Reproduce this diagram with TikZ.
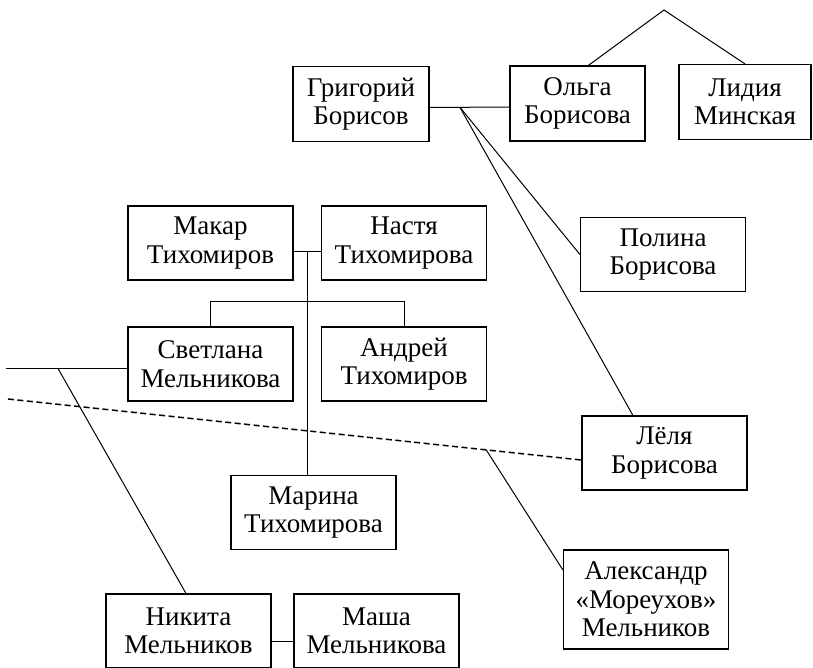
\documentclass[tikz,border=0pt]{standalone}
\usepackage{fontspec}
\setmainfont{Liberation Serif}
\usepackage{tikz}
\usetikzlibrary{positioning, calc}
\tikzset{
  person/.style={rectangle, draw, line width=1.2pt, fill=white,
                 minimum width=165pt, minimum height=74pt, inner sep=2pt,
                 align=center, font=\fontsize{27}{28.5}\selectfont},
  tie/.style={line width=1pt},
  loose/.style={line width=1.5pt, dash pattern=on 6pt off 3.5pt}
}

\begin{document}
\begin{tikzpicture}[x=1pt, y=-1pt]
    \useasboundingbox (0,0) rectangle (813,667);
    \fill[white] (0,0) rectangle (813,667);
    \clip (0,0) rectangle (813,667);

    % Borisovs
    \node[person, minimum width=136pt, minimum height=75pt] (grig)   at (361,104)   {Григорий\\Борисов};
    \node[person, minimum width=135pt, minimum height=75pt] (olga)   at (577.5,103.5) {Ольга\\Борисова};
    \node[person, minimum width=132pt, minimum height=75pt] (lidia)  at (745,102)   {Лидия\\Минская};
    \node[person] (polina) at (663,254.5) {Полина\\Борисова};
    \node[person] (lelya)  at (664.5,453) {Лёля\\Борисова};

    % Tikhomirovs
    \node[person] (makar)    at (210.5,243) {Макар\\Тихомиров};
    \node[person] (nastya)   at (404,243)   {Настя\\Тихомирова};
    \node[person] (svetlana) at (210.5,364) {Светлана\\Мельникова};
    \node[person] (andrey)   at (404,364)   {Андрей\\Тихомиров};
    \node[person] (marina)   at (313.5,512.5) {Марина\\Тихомирова};

    % Melnikovs
    \node[person, minimum height=99pt] (alex) at (646,599.5) {Александр\\«Мореухов»\\Мельников};
    \node[person] (nikita) at (188.5,631) {Никита\\Мельников};
    \node[person] (masha)  at (376.5,631) {Маша\\Мельникова};

    % Free ends
    \coordinate (top) at (664,10);
    \coordinate (sl)  at (6,368);
    \coordinate (dl)  at (8,399);

    % Ties
    \draw[tie] ($(olga.north west)!0.58!(olga.north east)$) -- (top) -- (lidia.north);
    \draw[tie] ([yshift=-3.5pt]grig.east) -- coordinate[pos=0.38] (gb) ([yshift=-3.5pt]olga.west);
    \draw[tie] (gb) -- (polina.west);
    \draw[tie] (gb) -- ($(lelya.north west)!0.31!(lelya.north east)$);
    \draw[tie] ([yshift=-8pt]makar.east) -- coordinate[midway] (mn) ([yshift=-8pt]nastya.west);
    \draw[tie] (mn) -- (mn |- marina.north);
    \draw[tie] (svetlana.north) -- ++(0,-25) -| (andrey.north);
    \draw[tie] ([yshift=-4pt]svetlana.west) -- coordinate[pos=0.574] (sb) (sl);
    \draw[tie] (sb) -- ([xshift=-2.5pt]nikita.north);
    \draw[tie] ([yshift=-10pt]nikita.east) -- ([yshift=-10pt]masha.west);

    % Dashed link
    \draw[loose] (dl) -- coordinate[pos=0.834] (dx) ([yshift=-7pt]lelya.west);
    \draw[tie] (dx) -- ([yshift=29.5pt]alex.west);
\end{tikzpicture}
\end{document}
